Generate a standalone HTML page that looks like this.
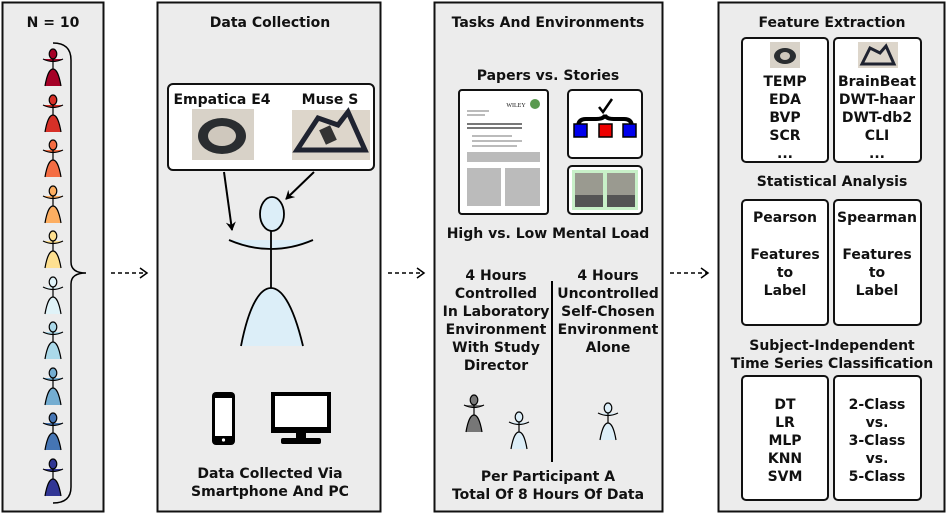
<!DOCTYPE html>
<html><head><meta charset="utf-8"><style>
html,body{margin:0;padding:0;background:#fff}
svg text{font-family:"DejaVu Sans","Liberation Sans",sans-serif;font-weight:bold;font-size:14px;text-anchor:middle;fill:#111}
</style></head><body>
<svg width="948" height="517" viewBox="0 0 948 517" xmlns="http://www.w3.org/2000/svg">
<defs>
<marker id="ah" markerWidth="10" markerHeight="10" refX="8" refY="5" orient="auto" markerUnits="userSpaceOnUse">
<path d="M0,0 L9,5 L0,10 L3,5 Z" fill="#000"/></marker>
<marker id="oa" markerWidth="10" markerHeight="12" refX="8" refY="6" orient="auto" markerUnits="userSpaceOnUse">
<path d="M1,1 L8,6 L1,11" fill="none" stroke="#000" stroke-width="1.5"/></marker>
<g id="fig">
<path d="M-8,32 C-6,20 -3,15 0,15 C3,15 6,20 8,32 Z"/>
<path d="M-10,5 Q0,10 10,5 Z"/>
<path d="M-10,5 Q0,10 10,5" fill="none" stroke="#000" stroke-width="1.2"/>
<path d="M-8,32 C-6,20 -3,15 0,15 C3,15 6,20 8,32" fill="none" stroke="#000" stroke-width="1.2"/>
<line x1="0" y1="5" x2="0" y2="15" stroke="#000" stroke-width="1.2"/>
<ellipse cx="0" cy="0" rx="3.8" ry="5" stroke="#000" stroke-width="1.2"/>
</g>
</defs>
<!-- panels -->
<rect x="2.5" y="2.5" width="101" height="509" fill="#ececec" stroke="#111" stroke-width="2"/>
<rect x="157.5" y="2.5" width="223" height="509" fill="#ececec" stroke="#111" stroke-width="2"/>
<rect x="434.5" y="2.5" width="228" height="509" fill="#ececec" stroke="#111" stroke-width="2"/>
<rect x="718.5" y="2.5" width="226" height="509" fill="#ececec" stroke="#111" stroke-width="2"/>

<!-- panel 1 -->
<text x="53" y="27">N = 10</text>
<use href="#fig" x="53" y="54" fill="#a50026"/>
<use href="#fig" x="53" y="100" fill="#d73027"/>
<use href="#fig" x="53" y="145" fill="#f46d43"/>
<use href="#fig" x="53" y="191" fill="#fdae61"/>
<use href="#fig" x="53" y="236" fill="#fee090"/>
<use href="#fig" x="53" y="282" fill="#e0f3f8"/>
<use href="#fig" x="53" y="327" fill="#abd9e9"/>
<use href="#fig" x="53" y="373" fill="#74add1"/>
<use href="#fig" x="53" y="418" fill="#4575b4"/>
<use href="#fig" x="53" y="464" fill="#313695"/>
<path d="M53,43 Q71,43 71,60 L71,262 Q71,273 86,273 Q71,273 71,284 L71,487 Q71,503 53,503" fill="none" stroke="#000" stroke-width="1.5"/>
<line x1="111" y1="273" x2="147" y2="273" stroke="#000" stroke-width="1.5" stroke-dasharray="4,3" marker-end="url(#oa)"/>
<line x1="388" y1="273" x2="424" y2="273" stroke="#000" stroke-width="1.5" stroke-dasharray="4,3" marker-end="url(#oa)"/>
<line x1="670" y1="273" x2="708" y2="273" stroke="#000" stroke-width="1.5" stroke-dasharray="4,3" marker-end="url(#oa)"/>

<!-- panel 2 -->
<text x="270" y="27">Data Collection</text>
<rect x="168" y="84" width="206" height="86" rx="5" fill="#fff" stroke="#111" stroke-width="2"/>
<text x="222" y="104">Empatica E4</text>
<text x="330" y="104">Muse S</text>
<rect x="192" y="109" width="62" height="51" fill="#d8d2c8"/>
<ellipse cx="222" cy="136" rx="24" ry="18" fill="#2a2d30"/>
<ellipse cx="222" cy="136" rx="14" ry="10" fill="#cfc8bd"/>
<rect x="292" y="110" width="78" height="50" fill="#ddd6cb"/>
<path d="M297,150 L318,118 L338,125 L348,112 L365,150 Z" fill="none" stroke="#1f2330" stroke-width="5"/>
<rect x="322" y="127" width="12" height="16" fill="#333" transform="rotate(-25 328 135)"/>
<line x1="224" y1="172" x2="232" y2="230" stroke="#000" stroke-width="2" marker-end="url(#ah)"/>
<line x1="314" y1="172" x2="286" y2="199" stroke="#000" stroke-width="2" marker-end="url(#ah)"/>
<path d="M229,240 Q271,258 313,240 Z" fill="#dceef8"/>
<path d="M229,240 Q271,258 313,240" fill="none" stroke="#000" stroke-width="1.8"/>
<path d="M241,346 C250,300 262,288 271,288 C280,288 292,300 303,346 Z" fill="#dceef8"/>
<path d="M241,346 C250,300 262,288 271,288 C280,288 292,300 303,346" fill="none" stroke="#000" stroke-width="1.8"/>
<line x1="271" y1="229" x2="271" y2="288" stroke="#000" stroke-width="1.8"/>
<ellipse cx="272" cy="214" rx="12" ry="17" fill="#dceef8" stroke="#000" stroke-width="1.8"/>
<rect x="212" y="392" width="23" height="53" rx="4" fill="#000"/>
<rect x="215" y="398" width="17" height="38" fill="#fff"/>
<circle cx="223.5" cy="440" r="1.6" fill="#fff"/>
<rect x="271" y="392" width="60" height="41" fill="#000"/>
<rect x="275" y="396" width="52" height="31" fill="#fff"/>
<rect x="296" y="433" width="10" height="5" fill="#000"/>
<rect x="281" y="438" width="40" height="6" rx="2" fill="#000"/>
<text x="270" y="478">Data Collected Via</text>
<text x="270" y="496">Smartphone And PC</text>

<!-- panel 3 -->
<text x="548" y="27">Tasks And Environments</text>
<text x="548" y="80">Papers vs. Stories</text>
<rect x="459" y="90" width="89" height="124" rx="3" fill="#fff" stroke="#111" stroke-width="2"/>
<g fill="#bbb">
<rect x="467" y="110" width="22" height="2"/><rect x="467" y="114" width="18" height="2"/>
<rect x="467" y="123" width="55" height="2" fill="#777"/><rect x="467" y="127" width="55" height="2" fill="#777"/>
<rect x="472" y="135" width="40" height="2"/><rect x="472" y="140" width="50" height="2"/><rect x="472" y="145" width="45" height="2"/>
<rect x="467" y="152" width="73" height="10"/>
<rect x="467" y="168" width="34" height="38"/><rect x="505" y="168" width="35" height="38"/>
</g>
<circle cx="535" cy="104" r="5" fill="#5a9a50"/>
<text x="516" y="107" style="font-size:6px;font-weight:normal;font-family:'Liberation Serif',serif">WILEY</text>
<rect x="568" y="90" width="74" height="68" rx="4" fill="#fff" stroke="#111" stroke-width="2"/>
<path d="M578,127 Q578,119 586,119 L596,119 Q604,119 605,115 Q606,119 614,119 L624,119 Q632,119 632,127" fill="none" stroke="#000" stroke-width="4"/>
<path d="M599,107 L603,112 L612,99" fill="none" stroke="#000" stroke-width="2.5"/>
<rect x="574" y="124" width="13" height="13" fill="#0000ee" stroke="#000" stroke-width="1.5"/>
<rect x="599" y="124" width="13" height="13" fill="#ee0000" stroke="#000" stroke-width="1.5"/>
<rect x="623" y="124" width="13" height="13" fill="#0000ee" stroke="#000" stroke-width="1.5"/>
<rect x="568" y="166" width="74" height="48" rx="4" fill="#fff" stroke="#111" stroke-width="2"/>
<rect x="572" y="170" width="66" height="40" fill="#c8f0c8"/>
<rect x="575" y="173" width="28" height="34" fill="#9a9a90"/>
<rect x="607" y="173" width="28" height="34" fill="#9a9a90"/>
<rect x="575" y="195" width="28" height="12" fill="#555"/>
<rect x="607" y="195" width="28" height="12" fill="#555"/>
<text x="548" y="238">High vs. Low Mental Load</text>
<line x1="552" y1="281" x2="552" y2="462" stroke="#000" stroke-width="2"/>
<g>
<text x="496" y="280">4 Hours</text>
<text x="496" y="298">Controlled</text>
<text x="496" y="316">In Laboratory</text>
<text x="496" y="334">Environment</text>
<text x="496" y="352">With Study</text>
<text x="496" y="370">Director</text>
<text x="608" y="280">4 Hours</text>
<text x="608" y="298">Uncontrolled</text>
<text x="608" y="316">Self-Chosen</text>
<text x="608" y="334">Environment</text>
<text x="608" y="352">Alone</text>
</g>
<use href="#fig" x="474" y="400" fill="#777"/>
<use href="#fig" x="519" y="417" fill="#dceef8"/>
<use href="#fig" x="608" y="408" fill="#dceef8"/>
<text x="548" y="481">Per Participant A</text>
<text x="548" y="499">Total Of 8 Hours Of Data</text>

<!-- panel 4 -->
<text x="832" y="27">Feature Extraction</text>
<rect x="742" y="38" width="86" height="124" rx="4" fill="#fff" stroke="#111" stroke-width="2"/>
<rect x="834" y="38" width="87" height="124" rx="4" fill="#fff" stroke="#111" stroke-width="2"/>
<rect x="770" y="42" width="30" height="26" fill="#d8d2c8"/>
<ellipse cx="785" cy="56" rx="11" ry="8" fill="#2a2d30"/><ellipse cx="785" cy="56" rx="5" ry="4" fill="#cfc8bd"/>
<rect x="858" y="42" width="40" height="26" fill="#ddd6cb"/>
<path d="M862,64 L870,48 L880,53 L886,46 L894,64 Z" fill="none" stroke="#1f2330" stroke-width="3"/>
<g>
<text x="785" y="86">TEMP</text><text x="785" y="104">EDA</text><text x="785" y="122">BVP</text><text x="785" y="140">SCR</text><text x="785" y="158">...</text>
<text x="877" y="86">BrainBeat</text><text x="877" y="104">DWT-haar</text><text x="877" y="122">DWT-db2</text><text x="877" y="140">CLI</text><text x="877" y="158">...</text>
</g>
<text x="832" y="186">Statistical Analysis</text>
<rect x="742" y="200" width="86" height="125" rx="4" fill="#fff" stroke="#111" stroke-width="2"/>
<rect x="834" y="200" width="87" height="125" rx="4" fill="#fff" stroke="#111" stroke-width="2"/>
<text x="785" y="222">Pearson</text><text x="785" y="259">Features</text><text x="785" y="277">to</text><text x="785" y="295">Label</text>
<text x="877" y="222">Spearman</text><text x="877" y="259">Features</text><text x="877" y="277">to</text><text x="877" y="295">Label</text>
<text x="832" y="350">Subject-Independent</text>
<text x="832" y="368">Time Series Classification</text>
<rect x="742" y="376" width="86" height="124" rx="4" fill="#fff" stroke="#111" stroke-width="2"/>
<rect x="834" y="376" width="87" height="124" rx="4" fill="#fff" stroke="#111" stroke-width="2"/>
<text x="785" y="409">DT</text><text x="785" y="427">LR</text><text x="785" y="445">MLP</text><text x="785" y="463">KNN</text><text x="785" y="481">SVM</text>
<text x="877" y="409">2-Class</text><text x="877" y="427">vs.</text><text x="877" y="445">3-Class</text><text x="877" y="463">vs.</text><text x="877" y="481">5-Class</text>
</svg>
</body></html>
